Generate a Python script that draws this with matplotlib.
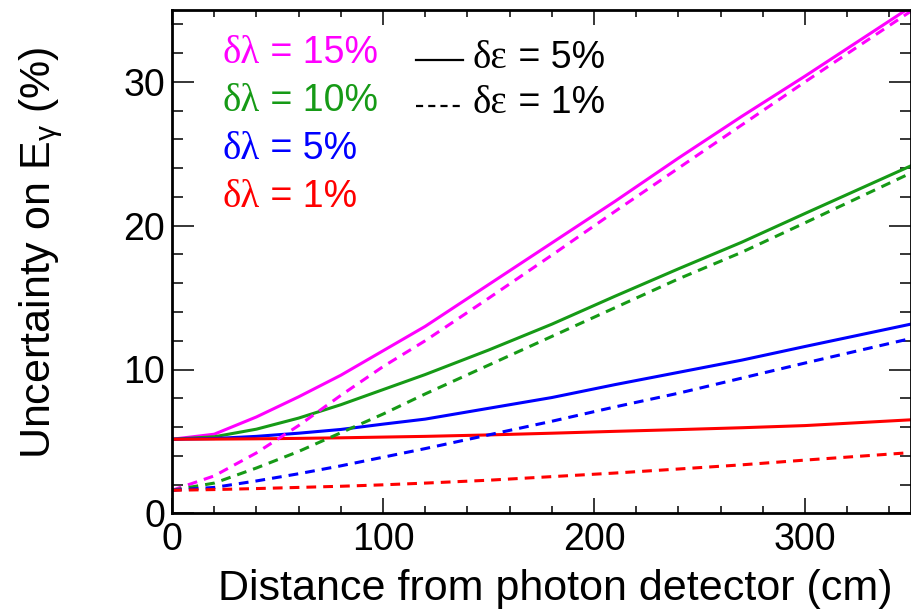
import matplotlib
matplotlib.use("Agg")
import matplotlib.pyplot as plt
from matplotlib.ticker import MultipleLocator

plt.rcParams["font.family"] = ["Liberation Sans", "DejaVu Sans"]
plt.rcParams["mathtext.fontset"] = "custom"
plt.rcParams["mathtext.rm"] = "Liberation Sans"
plt.rcParams["mathtext.it"] = "Liberation Sans"

# distance from the photon detector (cm)
distance = [0, 20, 40, 60, 80, 100, 120, 150, 180, 210, 240, 270, 300, 350]

# energy uncertainty (%) for each attenuation-length uncertainty, delta eps = 5%
unc_dl15_de5 = [5.15, 5.5, 6.7, 8.1, 9.6, 11.3, 13.0, 15.9, 18.8, 21.7, 24.7, 27.6, 30.4, 35.2]
unc_dl10_de5 = [5.15, 5.32, 5.85, 6.62, 7.55, 8.6, 9.65, 11.35, 13.15, 15.1, 17.0, 18.85, 20.85, 24.15]
unc_dl5_de5 = [5.15, 5.2, 5.35, 5.57, 5.83, 6.2, 6.55, 7.3, 8.05, 8.95, 9.8, 10.65, 11.6, 13.15]
unc_dl1_de5 = [5.15, 5.16, 5.18, 5.21, 5.25, 5.3, 5.35, 5.45, 5.57, 5.7, 5.82, 5.95, 6.1, 6.5]

# same, delta eps = 1%
unc_dl15_de1 = [1.6, 2.6, 4.2, 6.1, 8.2, 10.2, 12.0, 14.95, 17.95, 21.0, 24.0, 27.0, 30.0, 34.9]
unc_dl10_de1 = [1.6, 2.1, 3.15, 4.3, 5.6, 6.9, 8.3, 10.3, 12.3, 14.3, 16.3, 18.15, 20.2, 23.65]
unc_dl5_de1 = [1.6, 1.8, 2.25, 2.75, 3.3, 3.9, 4.5, 5.45, 6.4, 7.4, 8.35, 9.4, 10.45, 12.15]
unc_dl1_de1 = [1.6, 1.65, 1.72, 1.8, 1.88, 1.98, 2.1, 2.3, 2.55, 2.8, 3.08, 3.37, 3.7, 4.22]

dl_labels = ["15%", "10%", "5%", "1%"]
de_labels = ["5%", "1%"]
colors = ["#ff00ff", "#169a16", "#0000ff", "#ff0000"]

solid = [unc_dl15_de5, unc_dl10_de5, unc_dl5_de5, unc_dl1_de5]
dashed = [unc_dl15_de1, unc_dl10_de1, unc_dl5_de1, unc_dl1_de1]

W, H = 912, 612
fig = plt.figure(figsize=(W / 100, H / 100), dpi=100)
ax = fig.add_axes([172 / W, 1 - 513.3 / H, 738.5 / W, 503.3 / H])

dash = (0, (3.2, 2.3))
for vals, c in zip(solid, colors):
    ax.plot(distance, vals, color=c, lw=2.2)
for vals, c in zip(dashed, colors):
    ax.plot(distance, vals, color=c, lw=2.2, ls=dash)

ax.set_xlim(0, 350)
ax.set_ylim(0, 35)
ax.set_xticks([0, 100, 200, 300])
ax.set_yticks([0, 10, 20, 30])
ax.xaxis.set_minor_locator(MultipleLocator(20))
ax.yaxis.set_minor_locator(MultipleLocator(2))
ax.tick_params(which="both", direction="in", top=True, right=True,
               width=1.1, labelsize=27)
ax.tick_params(axis="x", which="major", length=10.8, pad=6)
ax.tick_params(axis="x", which="minor", length=5)
ax.tick_params(axis="y", which="major", length=16, pad=5)
ax.tick_params(axis="y", which="minor", length=8)
for sp in ax.spines.values():
    sp.set_linewidth(2.0)

# axis titles, pushed to the top/right ends like ROOT does
fig.text(893 / W, 1 - 600 / H, "Distance from photon detector (cm)",
         fontsize=31, ha="right", va="baseline")
fig.text(41 / W, 1 - 46 / H, r"Uncertainty on E$_{\gamma}$ (%)",
         fontsize=31, rotation=90, ha="center", va="top")

renderer = fig.canvas.get_renderer()


def greek_label(x, y, greek, rest, color):
    t = fig.text(x / W, 1 - y / H, greek, family="Liberation Serif",
                 fontsize=28, color=color, va="baseline")
    bb = t.get_window_extent(renderer=renderer)
    fig.text(bb.x1 / W, 1 - y / H, " = " + rest, fontsize=27,
             color=color, va="baseline")


for i, (lab, c) in enumerate(zip(dl_labels, colors)):
    greek_label(223, 63 + 48 * i, "δλ", lab, c)

for i, (lab, ls) in enumerate(zip(de_labels, ["-", dash])):
    y = 60 + 46 * i
    fig.add_artist(plt.Line2D([416 / W, 463 / W], [1 - y / H, 1 - y / H],
                              color="black", lw=1.6, ls=ls))
    greek_label(473, 68 + 45 * i, "δε", lab, "black")

fig.savefig("out.png", dpi=100)
